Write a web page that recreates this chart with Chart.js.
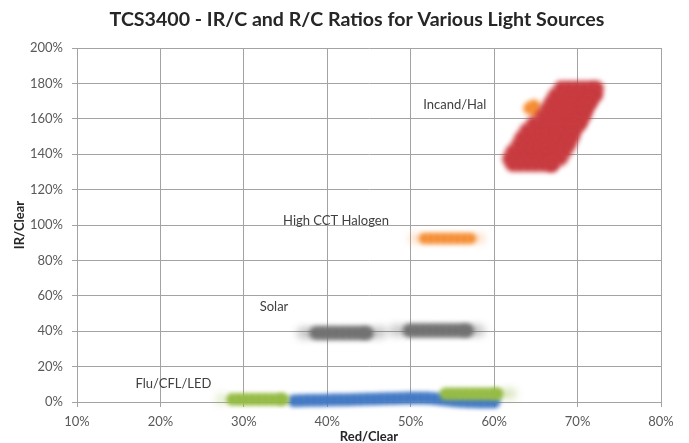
<!DOCTYPE html>
<html><head><meta charset="utf-8">
<script src="https://cdn.jsdelivr.net/npm/chart.js@4"></script>
<style>html,body{margin:0;padding:0;background:#fff}canvas{display:block}</style>
</head><body>
<canvas id="c" width="689" height="443"></canvas>
<script>
// ---- text ----
const chartTitle = 'TCS3400 - IR/C and R/C Ratios for Various Light Sources';
const xAxisTitle = 'Red/Clear';
const yAxisTitle = 'IR/Clear';
const xTickValues = [10, 20, 30, 40, 50, 60, 70, 80];
const yTickValues = [0, 20, 40, 60, 80, 100, 120, 140, 160, 180, 200];

// ---- data: [Red/Clear %, IR/Clear %] ----
const incandHal = [
  [68.0,177.5],[68.9,177.5],[69.8,177.5],[70.7,177.5],[71.6,177.5],[72.3,177.5],
  [67.3,173.5],[68.2,173.5],[69.1,173.5],[70.0,173.5],[70.9,173.5],[71.8,173.5],[72.2,173.5],
  [66.8,169.5],[67.7,169.5],[68.6,169.5],[69.5,169.5],[70.4,169.5],[71.3,169.5],[71.6,169.5],
  [66.3,165.5],[67.2,165.5],[68.1,165.5],[69.0,165.5],[69.9,165.5],[70.8,165.5],[71.1,165.5],
  [65.8,161.5],[66.7,161.5],[67.6,161.5],[68.5,161.5],[69.4,161.5],[70.3,161.5],[70.8,161.5],
  [64.7,157.5],[65.6,157.5],[66.5,157.5],[67.4,157.5],[68.3,157.5],[69.2,157.5],[70.1,157.5],[70.3,157.5],
  [63.9,153.5],[64.8,153.5],[65.7,153.5],[66.6,153.5],[67.5,153.5],[68.4,153.5],[69.3,153.5],[69.7,153.5],
  [63.3,149.5],[64.2,149.5],[65.1,149.5],[66.0,149.5],[66.9,149.5],[67.8,149.5],[68.7,149.5],[69.4,149.5],
  [62.9,145.5],[63.8,145.5],[64.7,145.5],[65.6,145.5],[66.5,145.5],[67.4,145.5],[68.3,145.5],[69.0,145.5],
  [62.2,141.5],[63.1,141.5],[64.0,141.5],[64.9,141.5],[65.8,141.5],[66.7,141.5],[67.6,141.5],[68.5,141.5],
  [61.8,137.5],[62.7,137.5],[63.6,137.5],[64.5,137.5],[65.4,137.5],[66.3,137.5],[67.2,137.5],[68.0,137.5],
  [62.2,134.0],[63.1,134.0],[64.0,134.0],[64.9,134.0],[65.8,134.0],[66.7,134.0],[67.0,134.0]
];
const incandOrange = [[64.2,166],[65.0,164],[64.8,167.5]];
const highCCT = [[51.6,92.4],[52.4,92.4],[53.2,92.4],[54.0,92.4],[54.8,92.4],[55.6,92.4],[56.4,92.4],[57.2,92.4]];
const highCCTHaze = [[50.4,92.4],[58.3,92.4]];
const solar = [
  [38.6,39],[39.4,39],[40.2,39],[41.0,39],[41.8,39],[42.6,39],[43.4,39],[44.2,39],[44.8,39],
  [49.8,40.4],[50.6,40.4],[51.4,40.4],[52.2,40.4],[53.0,40.4],[53.8,40.4],[54.6,40.4],[55.4,40.4],[56.2,40.4],[56.8,40.4]
];
const solarHaze = [[37.0,39],[37.6,39],[45.8,39],[46.5,39.5],[48.0,40.4],[48.8,40.4],[57.6,40.4],[58.3,40.4]];
const fluBlue = [
  [36.0,0.7],[36.8,0.8],[37.6,0.9],[38.4,1.0],[39.2,1.0],[40.0,1.1],[40.8,1.2],[41.6,1.3],[42.4,1.3],
  [43.2,1.4],[44.0,1.5],[44.8,1.6],[45.6,1.7],[46.4,1.8],[47.2,1.9],[48.0,2.0],[48.8,2.1],[49.6,2.2],
  [50.4,2.3],[51.2,2.3],[52.0,2.2],[52.8,1.9],[53.6,1.5],[54.4,1.1],[55.2,0.7],[56.0,0.4],[56.8,0.2],
  [57.6,0.1],[58.4,0.0],[59.2,0.0],[60.0,0.0]
];
const fluGreen = [
  [28.6,1.5],[29.4,1.5],[30.2,1.5],[31.0,1.5],[31.8,1.5],[32.6,1.5],[33.4,1.5],[34.2,1.5],[34.7,1.5],
  [54.2,4.7],[55.0,4.7],[55.8,4.7],[56.6,4.7],[57.4,4.7],[58.2,4.7],[59.0,4.7],[59.8,4.7],[60.4,4.7]
];
const fluGreenHaze = [[27.3,1.5],[61.3,4.7],[62.1,4.7]];

// ---- in-plot labels (data coordinates) ----
const sourceLabels = [
  {text: 'Incand/Hal', x: 51.5, y: 167.8},
  {text: 'High CCT Halogen', x: 34.7, y: 102.3},
  {text: 'Solar', x: 31.9, y: 53.7},
  {text: 'Flu/CFL/LED', x: 17.0, y: 10.2}
];

const toXY = arr => arr.map(p => ({x: p[0], y: p[1]}));

function blob(data, rgb, r, order, blur) {
  return {
    data: toXY(data), order: order, clip: false, showLine: false,
    pointRadius: r, pointHoverRadius: r,
    backgroundColor: 'rgb(' + rgb + ')',
    borderWidth: 0, borderColor: 'rgba(0,0,0,0)',
    soft: {color: 'rgb(' + rgb + ')', blur: blur}
  };
}
function haze(data, rgb, r, order) {
  return {
    data: toXY(data), order: order, clip: false, showLine: false,
    pointRadius: r, pointHoverRadius: r,
    backgroundColor: 'rgb(' + rgb + ')',
    borderWidth: 0, borderColor: 'rgba(0,0,0,0)',
    soft: {color: 'rgba(' + rgb + ',0.25)', blur: 7}
  };
}

const RED = '200,60,64', ORANGE = '245,140,50', GRAY = '114,114,114', BLUE = '68,122,196', GREEN = '150,188,70';

// draw each dataset only through its blurred shadow => soft-edged blobs
const SHIFT = 3000;
const softPlugin = {
  id: 'soft',
  beforeDatasetDraw(chart, args) {
    const s = args.meta._dataset.soft;
    const ctx = chart.ctx;
    ctx.save();
    if (s) {
      ctx.translate(-SHIFT, 0);
      ctx.shadowOffsetX = SHIFT;
      ctx.shadowOffsetY = 0;
      ctx.shadowColor = s.color;
      ctx.shadowBlur = s.blur;
    }
  },
  afterDatasetDraw(chart) { chart.ctx.restore(); }
};

const titlePlugin = {
  id: 'titleAndLabels',
  afterDatasetsDraw(chart) {
    const ctx = chart.ctx;
    ctx.save();
    ctx.fillStyle = '#262626';
    ctx.font = 'bold 19.6px Lato';
    ctx.textAlign = 'center';
    ctx.textBaseline = 'middle';
    ctx.fillText(chartTitle, 357, 20);
    ctx.fillStyle = '#404040';
    ctx.font = '13px Lato';
    ctx.textAlign = 'left';
    for (const l of sourceLabels) {
      ctx.fillText(l.text, chart.scales.x.getPixelForValue(l.x), chart.scales.y.getPixelForValue(l.y));
    }
    ctx.restore();
  }
};

const gridColor = '#a3a3a3';
new Chart(document.getElementById('c'), {
  type: 'scatter',
  data: {
    datasets: [
      haze(solarHaze, GRAY, 6.5, 20),
      haze(highCCTHaze, ORANGE, 5.5, 20),
      haze(fluGreenHaze, GREEN, 6, 20),
      blob(fluBlue, BLUE, 6.3, 6, 4),
      blob(fluGreen, GREEN, 6.3, 5, 4),
      blob(solar, GRAY, 7, 4, 5),
      blob(highCCT, ORANGE, 5.8, 4, 5),
      blob(incandOrange, ORANGE, 6, 3, 5),
      blob(incandHal, RED, 7, 2, 5)
    ]
  },
  options: {
    responsive: false,
    devicePixelRatio: 1,
    animation: false,
    events: [],
    layout: {padding: {top: 48, right: 28, left: 0, bottom: 0}},
    plugins: {legend: {display: false}, tooltip: {enabled: false}, title: {display: false}},
    scales: {
      x: {
        type: 'linear', min: 10, max: 80,
        afterFit: s => { s.height = 41; },
        afterBuildTicks: s => { s.ticks = xTickValues.map(v => ({value: v})); },
        grid: {color: gridColor, lineWidth: 1, tickLength: 5, drawTicks: true},
        border: {display: true, color: gridColor},
        ticks: {callback: v => v + '%', padding: 7, color: '#595959', font: {family: 'Lato', size: 13}, maxRotation: 0},
        title: {display: true, text: xAxisTitle, color: '#262626', font: {family: 'Lato', size: 13, weight: 'bold', lineHeight: 1}, padding: {top: 0, bottom: 0}}
      },
      y: {
        type: 'linear', min: 0, max: 200,
        afterFit: s => { s.width = 77; },
        afterBuildTicks: s => { s.ticks = yTickValues.map(v => ({value: v})); },
        grid: {color: gridColor, lineWidth: 1, tickLength: 5, drawTicks: true},
        border: {display: true, color: gridColor},
        ticks: {callback: v => v + '%', padding: 9, color: '#595959', font: {family: 'Lato', size: 13}},
        title: {display: true, text: yAxisTitle, color: '#262626', font: {family: 'Lato', size: 13, weight: 'bold'}, padding: {top: 12, bottom: 0}}
      }
    }
  },
  plugins: [softPlugin, titlePlugin]
});
</script>
</body></html>
